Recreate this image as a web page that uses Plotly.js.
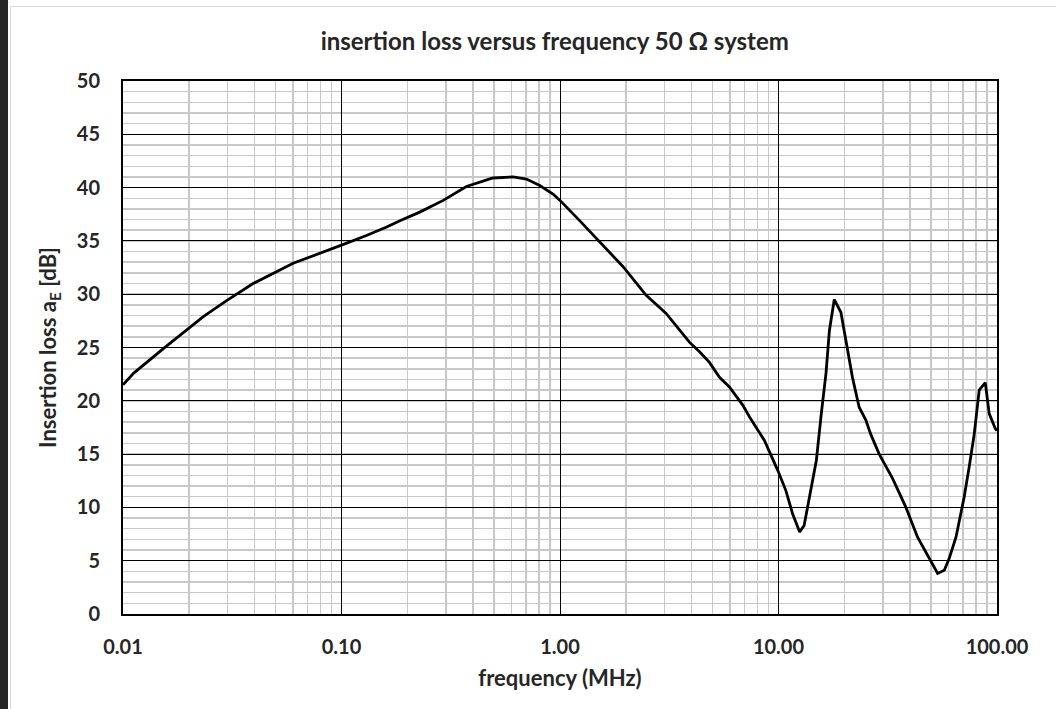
<!DOCTYPE html>
<html>
<head>
<meta charset="utf-8">
<script src="https://cdn.plot.ly/plotly-3.0.1.min.js"></script>
<style>
  html, body { margin: 0; padding: 0; background: #ffffff; width: 1056px; height: 709px; overflow: hidden; }
  #strip { position: absolute; left: 0; top: 0; width: 8px; height: 709px; background: #262626; }
  #frame { position: absolute; left: 10px; top: 6px; width: 1060px; height: 720px; border: 1px solid #d9d9d9; box-sizing: border-box; }
  #chart { position: absolute; left: 0; top: 0; width: 1056px; height: 709px; }
</style>
</head>
<body>
<div id="strip"></div>
<div id="frame"></div>
<div id="chart"></div>
<script>
// Frequency in MHz
const frequency = [0.01, 0.0112, 0.0153, 0.0195, 0.0233, 0.0298, 0.0394, 0.0601, 0.0796, 0.1,
  0.130, 0.161, 0.185, 0.228, 0.292, 0.373, 0.493, 0.610, 0.702, 0.808, 0.929, 1.0,
  1.23, 1.52, 1.94, 2.48, 3.06, 3.91, 4.35, 4.83, 5.37, 5.96, 6.86, 7.36, 8.61, 9.91,
  10.8, 11.6, 12.5, 13.1, 13.8, 14.9, 15.7, 16.5, 17.1, 18.0, 19.3, 20.4, 21.8, 23.4,
  25.1, 26.5, 28.9, 33.3, 38.3, 43.3, 49.0, 53.5, 57.4, 60.4, 64.9, 70.8, 74.6, 78.7,
  82.9, 88.4, 92.1, 98.2, 100];
// Insertion loss aE in dB
const insertionLoss = [21.5, 22.6, 24.9, 26.6, 27.9, 29.4, 31.0, 32.9, 33.8, 34.6,
  35.5, 36.3, 36.9, 37.7, 38.8, 40.1, 40.9, 41.0, 40.8, 40.2, 39.4, 38.8,
  36.9, 34.9, 32.6, 29.9, 28.2, 25.5, 24.6, 23.6, 22.2, 21.3, 19.6, 18.5, 16.3, 13.5,
  11.6, 9.4, 7.7, 8.3, 10.8, 14.4, 18.8, 22.6, 26.6, 29.5, 28.3, 25.4, 22.2, 19.4,
  18.2, 16.8, 15.0, 12.7, 10.0, 7.2, 5.2, 3.8, 4.1, 5.2, 7.2, 11.0, 13.8, 16.9,
  21.0, 21.7, 18.8, 17.4, 17.2];

const xTickVals = [0.01, 0.1, 1, 10, 100];
const xTickText = ['<b>0.01</b>', '<b>0.10</b>', '<b>1.00</b>', '<b>10.00</b>', '<b>100.00</b>'];
const yTickVals = [0, 5, 10, 15, 20, 25, 30, 35, 40, 45, 50];
const yTickText = yTickVals.map(v => '<b>' + v + '</b>');

// minor grid positions: 2..9 within each decade
const xMinor = [];
[0.01, 0.1, 1, 10].forEach(d => { for (let k = 2; k <= 9; k++) xMinor.push(+(d * k).toPrecision(3)); });

const FONT = 'Lato, "Open Sans", sans-serif';
const TXT = '#262626';

const trace = {
  x: frequency,
  y: insertionLoss,
  type: 'scatter',
  mode: 'lines',
  line: { color: '#000000', width: 2.8, shape: 'linear' },
  hoverinfo: 'x+y'
};

const layout = {
  width: 1056,
  height: 709,
  paper_bgcolor: 'rgba(0,0,0,0)',
  plot_bgcolor: '#ffffff',
  margin: { l: 123, r: 59, t: 81, b: 95 },
  showlegend: false,
  font: { family: FONT, color: TXT },
  title: {
    text: '<b>insertion loss versus frequency 50 Ω system</b>',
    font: { family: FONT, size: 24, color: TXT },
    x: 0.494, xref: 'paper', xanchor: 'center',
    y: 0.942, yref: 'container', yanchor: 'middle'
  },
  xaxis: {
    type: 'log',
    range: [-2, 2],
    tickmode: 'array',
    tickvals: xTickVals,
    ticktext: xTickText,
    tickfont: { family: FONT, size: 20, color: TXT },
    ticks: 'outside', ticklen: 14, tickcolor: 'rgba(0,0,0,0)',
    showgrid: true, gridcolor: '#000000', gridwidth: 1,
    minor: { tickmode: 'array', tickvals: xMinor, showgrid: true, gridcolor: '#c8c8c8', gridwidth: 1.5, ticks: '' },
    showline: true, linecolor: '#000000', linewidth: 2, mirror: true,
    zeroline: false,
    title: { text: '<b>frequency (MHz)</b>', font: { family: FONT, size: 22, color: TXT }, standoff: 14 },
    fixedrange: true
  },
  yaxis: {
    range: [0, 50],
    tickmode: 'array',
    tickvals: yTickVals,
    ticktext: yTickText,
    tickfont: { family: FONT, size: 20, color: TXT },
    ticks: 'outside', ticklen: 17, tickcolor: 'rgba(0,0,0,0)',
    showgrid: true, gridcolor: '#000000', gridwidth: 1,
    minor: { tickmode: 'linear', tick0: 0, dtick: 1, showgrid: true, gridcolor: '#c8c8c8', gridwidth: 1.5, ticks: '' },
    showline: true, linecolor: '#000000', linewidth: 2, mirror: true,
    zeroline: false,
    title: { text: '<b>Insertion loss a<sub>E</sub> [dB]</b>', font: { family: FONT, size: 22, color: TXT }, standoff: 14 },
    fixedrange: true
  }
};

Plotly.newPlot('chart', [trace], layout, { displayModeBar: false, staticPlot: true });
</script>
</body>
</html>
